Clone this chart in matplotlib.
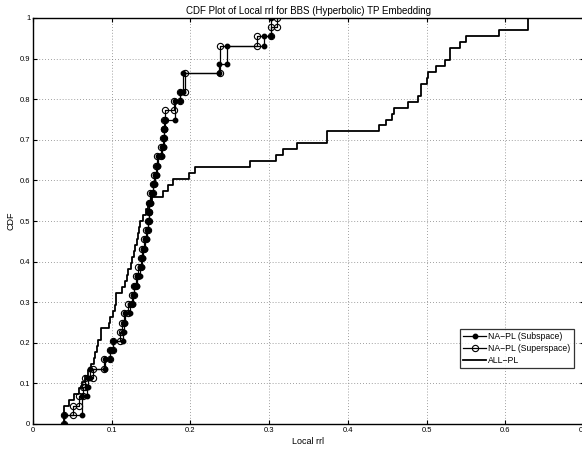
import numpy as np
import matplotlib
matplotlib.use("Agg")
import matplotlib.pyplot as plt
from matplotlib.ticker import FormatStrFormatter

plt.rcParams['font.family'] = ['Liberation Sans', 'DejaVu Sans']

# ---- data (sample values; CDF levels follow from them) ----
sub_x = [0.040, 0.062, 0.062, 0.068, 0.070, 0.0725, 0.0916, 0.098, 0.101, 0.114,
         0.115, 0.117, 0.123, 0.127, 0.128, 0.132, 0.136, 0.138, 0.140, 0.142,
         0.145, 0.146, 0.147, 0.148, 0.150, 0.153, 0.155, 0.157, 0.159, 0.164,
         0.166, 0.167, 0.168, 0.181, 0.181, 0.187, 0.191, 0.191, 0.236, 0.247,
         0.247, 0.293, 0.302, 0.302]
sup_x = [0.040, 0.051, 0.059, 0.064, 0.066, 0.0767, 0.090, 0.098, 0.102, 0.110,
         0.113, 0.116, 0.121, 0.126, 0.128, 0.131, 0.134, 0.137, 0.139, 0.141,
         0.144, 0.146, 0.147, 0.148, 0.149, 0.152, 0.154, 0.156, 0.158, 0.163,
         0.165, 0.166, 0.167, 0.168, 0.179, 0.187, 0.193, 0.193, 0.238, 0.238,
         0.238, 0.285, 0.302, 0.310]
all_x = [0.040, 0.040, 0.040, 0.046, 0.052, 0.058, 0.062, 0.066, 0.070, 0.074,
         0.077, 0.079, 0.081, 0.083, 0.086, 0.087, 0.096, 0.098, 0.101, 0.104,
         0.105, 0.106, 0.113, 0.117, 0.119, 0.121, 0.124, 0.126, 0.128, 0.130,
         0.132, 0.134, 0.135, 0.136, 0.140, 0.143, 0.146, 0.151, 0.165, 0.171,
         0.178, 0.198, 0.206, 0.276, 0.309, 0.318, 0.335, 0.374, 0.374, 0.440,
         0.449, 0.456, 0.459, 0.477, 0.489, 0.493, 0.493, 0.500, 0.502, 0.512,
         0.523, 0.530, 0.530, 0.542, 0.5505, 0.592, 0.629, 0.629]

series_names = ['NA\u2212PL (Subspace)', 'NA\u2212PL (Superspace)', 'ALL\u2212PL']
title = 'CDF Plot of Local rrl for BBS (Hyperbolic) TP Embedding'
x_label = 'Local rrl'
y_label = 'CDF'
x_ticks = [0, 0.1, 0.2, 0.3, 0.4, 0.5, 0.6, 0.7]
y_ticks = [0, 0.1, 0.2, 0.3, 0.4, 0.5, 0.6, 0.7, 0.8, 0.9, 1]


def stair_vertices(samples):
    """Empirical CDF vertices like MATLAB cdfplot (corner points of the staircase)."""
    s = np.sort(np.asarray(samples, float))
    n = len(s)
    ux, counts = np.unique(s, return_counts=True)
    cum = np.cumsum(counts) / n
    xs, ys = [], []
    prev = 0.0
    for x, c in zip(ux, cum):
        xs += [x, x]
        ys += [prev, c]
        prev = c
    return np.array(xs), np.array(ys)


fig = plt.figure(figsize=(5.82, 4.49), dpi=100)
ax = fig.add_axes([33 / 582, 25 / 449, 551 / 582, 406 / 449])

xs, ys = stair_vertices(sub_x)
ax.plot(xs, ys, color='black', lw=0.9, marker='o', ms=3.2, mfc='black', mec='black',
        label=series_names[0], zorder=3)
xs, ys = stair_vertices(sup_x)
ax.plot(xs, ys, color='black', lw=0.9, marker='o', ms=4.5, mfc='none', mec='black',
        mew=0.8, label=series_names[1], zorder=3)
xs, ys = stair_vertices(all_x)
xs = np.concatenate([xs, [1.0]])
ys = np.concatenate([ys, [1.0]])
ax.plot(xs, ys, color='black', lw=1.3, label=series_names[2], zorder=2)

ax.set_xlim(0, 0.7)
ax.set_ylim(0, 1)
ax.set_xticks(x_ticks)
ax.set_yticks(y_ticks)
ax.xaxis.set_major_formatter(FormatStrFormatter('%g'))
ax.yaxis.set_major_formatter(FormatStrFormatter('%g'))
ax.grid(True, linestyle=(0, (1, 2.5)), color='#808080', lw=0.6)
ax.tick_params(direction='in', length=3, width=0.8, labelsize=5.5, top=True, right=True,
               pad=2)
for sp in ax.spines.values():
    sp.set_linewidth(1.0)

ax.set_title(title, fontsize=7, pad=3)
ax.set_xlabel(x_label, fontsize=6.5, labelpad=2)
ax.set_ylabel(y_label, fontsize=6.5, labelpad=3)

leg = ax.legend(loc='lower right', bbox_to_anchor=(0.982, 0.138), fontsize=6.2,
                frameon=True, fancybox=False, edgecolor='black', handlelength=2.6,
                borderpad=0.4, labelspacing=0.3, handletextpad=0.3, borderaxespad=0)
leg.get_frame().set_linewidth(0.9)

fig.savefig('out.png', dpi=100)
